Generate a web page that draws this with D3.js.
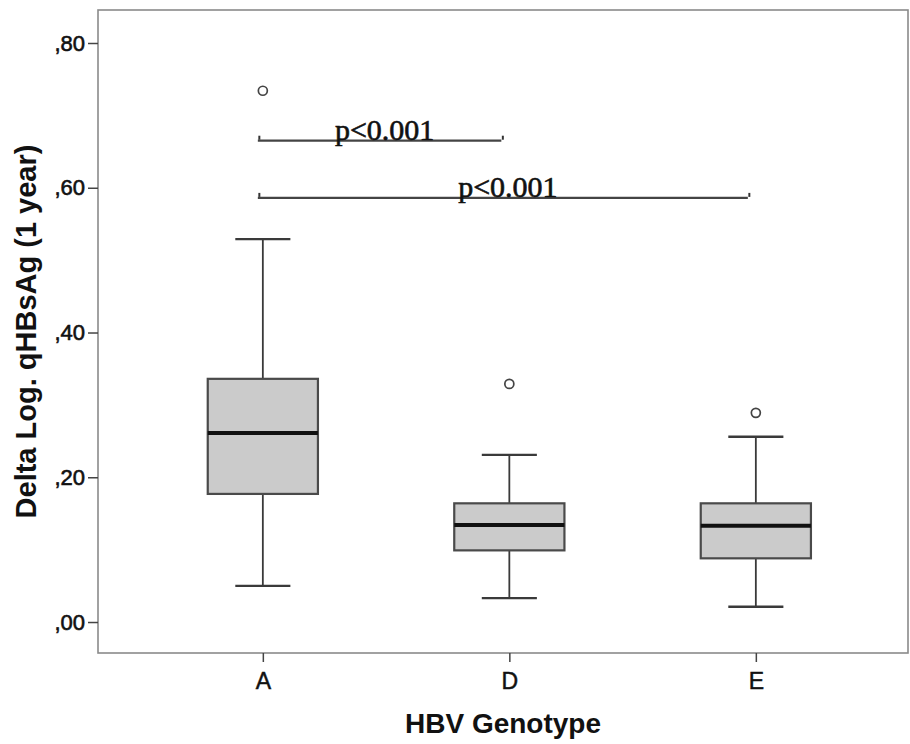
<!DOCTYPE html>
<html>
<head>
<meta charset="utf-8">
<script src="https://cdn.jsdelivr.net/npm/d3@7"></script>
<style>
  body { margin: 0; background: #fff; }
  svg { display: block; }
</style>
</head>
<body>
<div class="box_viz"></div>
<script>
// data
var genotypes = ["A", "D", "E"];
var whiskerLow = [0.050, 0.033, 0.021];
var q1 = [0.177, 0.099, 0.088];
var medians = [0.261, 0.134, 0.133];
var q3 = [0.336, 0.164, 0.164];
var whiskerHigh = [0.529, 0.231, 0.256];
var outliers = [0.734, 0.329, 0.289];
var yTicks = [0, 0.2, 0.4, 0.6, 0.8];
var brackets = [
  { from: "A", to: "D", level: 0.665, label: "p<0.001" },
  { from: "A", to: "E", level: 0.586, label: "p<0.001" }
];

var width = 910, height = 744;
var frame = { left: 98, right: 908, top: 10, bottom: 653 };

var svg = d3.select(".box_viz").append("svg")
  .attr("width", width)
  .attr("height", height);

var x = d3.scalePoint()
  .domain(genotypes)
  .range([frame.left, frame.right])
  .padding(0.643)
  .align(0.52);

var y = d3.scaleLinear()
  .domain([-0.0428, 0.8456])
  .range([frame.bottom, frame.top]);

var boxW = x.step() * 0.447;
var capW = boxW * 0.5;

// frame
svg.append("rect")
  .attr("x", frame.left)
  .attr("y", frame.top)
  .attr("width", frame.right - frame.left)
  .attr("height", frame.bottom - frame.top)
  .attr("fill", "none")
  .attr("stroke", "#8a8a8a")
  .attr("stroke-width", 1.6);

// y axis
var yAxis = svg.append("g")
  .attr("transform", "translate(" + frame.left + ",0)")
  .call(d3.axisLeft(y)
    .tickValues(yTicks)
    .tickSize(10)
    .tickPadding(3)
    .tickFormat(function(d) { return d3.format(".2f")(d).slice(1).replace(".", ","); }));
yAxis.select(".domain").remove();
yAxis.selectAll("line").attr("stroke", "#444").attr("stroke-width", 1.5);
yAxis.selectAll("text")
  .attr("font-family", "Liberation Sans, Arial, sans-serif")
  .attr("font-size", 22)
  .attr("fill", "#111")
  .attr("stroke", "#111")
  .attr("stroke-width", 0.6);

// x axis
var xAxis = svg.append("g")
  .attr("transform", "translate(0," + frame.bottom + ")")
  .call(d3.axisBottom(x).tickSize(9).tickPadding(11));
xAxis.select(".domain").remove();
xAxis.selectAll("line").attr("stroke", "#444").attr("stroke-width", 1.5);
xAxis.selectAll("text")
  .attr("font-family", "Liberation Sans, Arial, sans-serif")
  .attr("font-size", 23)
  .attr("fill", "#111")
  .attr("stroke", "#111")
  .attr("stroke-width", 0.5);

// axis titles
svg.append("text")
  .attr("x", (frame.left + frame.right) / 2)
  .attr("y", 733)
  .attr("text-anchor", "middle")
  .attr("font-family", "Liberation Sans, Arial, sans-serif")
  .attr("font-weight", "bold")
  .attr("font-size", 28)
  .attr("fill", "#111")
  .text("HBV Genotype");

svg.append("text")
  .attr("transform", "translate(36," + ((frame.top + frame.bottom) / 2) + ") rotate(-90)")
  .attr("text-anchor", "middle")
  .attr("font-family", "Liberation Sans, Arial, sans-serif")
  .attr("font-weight", "bold")
  .attr("font-size", 29)
  .attr("fill", "#111")
  .text("Delta Log. qHBsAg (1 year)");

// boxes
var g = svg.append("g");
genotypes.forEach(function(k, i) {
  var cx = x(k);
  var lineCol = "#3a3a3a";
  // whiskers
  g.append("line")
    .attr("x1", cx).attr("x2", cx)
    .attr("y1", y(whiskerHigh[i])).attr("y2", y(q3[i]))
    .attr("stroke", lineCol).attr("stroke-width", 1.8);
  g.append("line")
    .attr("x1", cx).attr("x2", cx)
    .attr("y1", y(q1[i])).attr("y2", y(whiskerLow[i]))
    .attr("stroke", lineCol).attr("stroke-width", 1.8);
  [whiskerHigh[i], whiskerLow[i]].forEach(function(v) {
    g.append("line")
      .attr("x1", cx - capW / 2).attr("x2", cx + capW / 2)
      .attr("y1", y(v)).attr("y2", y(v))
      .attr("stroke", lineCol).attr("stroke-width", 2.4);
  });
  // box
  g.append("rect")
    .attr("x", cx - boxW / 2)
    .attr("y", y(q3[i]))
    .attr("width", boxW)
    .attr("height", y(q1[i]) - y(q3[i]))
    .attr("fill", "#cbcbcb")
    .attr("stroke", "#4a4a4a")
    .attr("stroke-width", 2.2);
  // median
  g.append("line")
    .attr("x1", cx - boxW / 2).attr("x2", cx + boxW / 2)
    .attr("y1", y(medians[i])).attr("y2", y(medians[i]))
    .attr("stroke", "#111").attr("stroke-width", 4);
  // outlier
  g.append("circle")
    .attr("cx", cx)
    .attr("cy", y(outliers[i]))
    .attr("r", 4.5)
    .attr("fill", "#fff")
    .attr("stroke", "#444")
    .attr("stroke-width", 1.7);
});

// significance brackets
var bg = svg.append("g");
brackets.forEach(function(b) {
  var x1 = x(b.from) - 5, x2 = x(b.to) - 8;
  var yy = y(b.level);
  bg.append("line")
    .attr("x1", x1).attr("x2", x2)
    .attr("y1", yy).attr("y2", yy)
    .attr("stroke", "#444").attr("stroke-width", 2.2);
  [x1, x2].forEach(function(xx) {
    bg.append("line")
      .attr("x1", xx + 1.5).attr("x2", xx + 1.5)
      .attr("y1", yy - 5).attr("y2", yy - 1)
      .attr("stroke", "#333").attr("stroke-width", 2);
  });
  bg.append("text")
    .attr("x", (x1 + x2) / 2 + 5)
    .attr("y", yy - 1)
    .attr("text-anchor", "middle")
    .attr("font-family", "Liberation Serif, Times New Roman, serif")
    .attr("font-size", 30)
    .attr("fill", "#111")
    .attr("stroke", "#111")
    .attr("stroke-width", 0.6)
    .text(b.label);
});
</script>
</body>
</html>
